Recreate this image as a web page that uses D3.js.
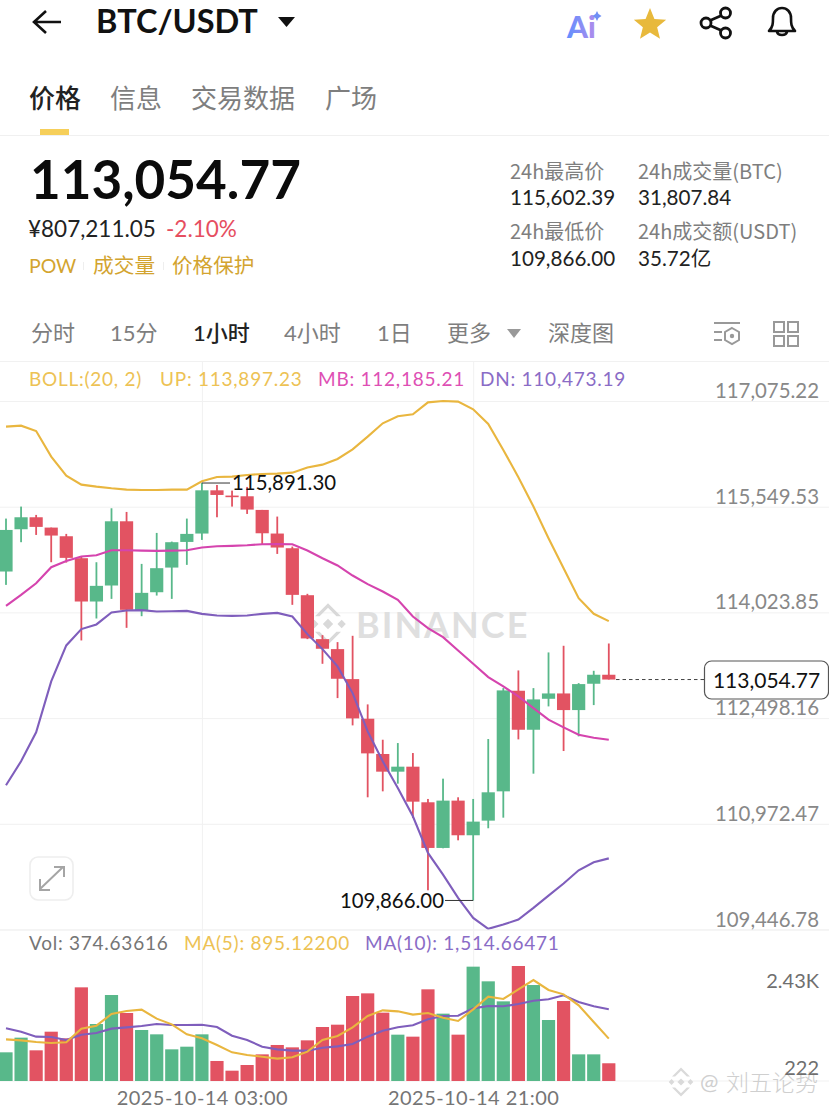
<!DOCTYPE html>
<html>
<head>
<meta charset="utf-8">
<script src="https://cdn.jsdelivr.net/npm/d3@7/dist/d3.min.js"></script>
<style>
  html, body { margin: 0; padding: 0; background: #fff; overflow: hidden; }
  svg { display: block; }
  text { font-family: Lato, "Noto Sans CJK SC", sans-serif; }
  .zh { font-family: "Noto Sans CJK SC", Lato, sans-serif; }
</style>
</head>
<body>
<div id="chart"></div>
<script>
// hourly candles, first one is 2025-10-13 14:00
const openPrices = [114614,115224,115397,115248,115123,114806,114181,114412,115339,114056,114315,114671,115041,115162,115786,115710,115700,115503,115162,114950,114272,113638,113494,113061,112489,111980,111725,111797,111283,110624,111307,110807,111018,111441,112893,112330,112777,112854,112614,112994,113124];
const closePrices = [115214,115397,115258,115133,114811,114181,114407,115339,114061,114306,114662,115037,115157,115786,115719,115695,115508,115166,114960,114277,113648,113499,113066,112494,111989,111725,111797,111292,110624,111307,110807,111004,111427,112898,112330,112768,112854,112614,112989,113124,113054.77];
const highPrices = [115378,115551,115431,115248,115157,114830,114748,115527,115474,114724,115171,115046,115378,115891.30,115863,115782,115835,115503,115407,114974,114292,113696,113595,113686,112696,112186,112138,111994,111331,111624,111355,111331,112196,112931,113186,112931,113446,113542,113003,113181,113575];
const lowPrices = [114421,115037,115142,114748,114743,113619,113936,114219,113801,113969,114267,114219,114710,115070,115397,115551,115445,115008,114868,114133,113638,113282,112787,112393,111355,111441,111552,111057,110013,110619,110734,109866,110908,111061,112191,111696,112667,112023,112234,112686,113054.77];

const bollUp = [116705,116719,116642,116272,115998,115868,115839,115815,115796,115791,115791,115796,115796,115916,115979,115984,116008,116022,116027,116041,116114,116157,116239,116378,116561,116753,116854,116883,117056,117075,117066,116955,116744,116369,115975,115552,115095,114662,114230,114004,113897.23];
const bollMid = [114118,114277,114445,114676,114767,114830,114849,114921,114921,114916,114912,114916,114921,114960,114979,114984,114993,115008,115012,115008,114917,114806,114701,114556,114432,114326,114206,113965,113797,113667,113474,113282,113090,112955,112811,112643,112475,112364,112258,112215,112185.21];
const bollDn = [111528,111875,112293,113028,113547,113783,113850,114023,114052,114056,114037,114041,114046,114003,113979,113974,113979,114003,114017,113965,113710,113494,113244,112859,112306,111874,111489,111081,110552,110239,109903,109614,109456,109518,109590,109759,109936,110110,110302,110417,110473.19];

const volumes = [606,916,648,1042,901,1979,1204,1817,1437,1078,986,669,725,986,423,218,338,563,761,711,859,1141,1190,1796,1852,1444,979,937,1937,1423,979,2416,2106,1683,2430,2028,1289,1690,563,563,374.64];
const volMa5 = [880,859,824,803,817,1106,1169,1416,1479,1507,1317,1197,986,901,761,606,549,514,472,500,620,866,951,1134,1373,1493,1472,1402,1437,1338,1268,1514,1782,1733,1937,2134,1923,1831,1599,1247,895.12];
const volMa10 = [1113,1042,937,930,866,979,1014,1106,1134,1162,1204,1183,1183,1190,1141,958,866,725,669,641,641,704,732,782,937,1063,1134,1176,1303,1373,1380,1535,1585,1578,1627,1697,1726,1810,1669,1578,1514.66];

const priceTicks = [117075.22,115549.53,114023.85,112498.16,110972.47,109446.78];
const volTickLabels = ['2.43K','222'];
const volTicks = [2430,222];
const lastPrice = 113054.77;
const highMark = 115891.30;
const lowMark = 109866.00;

const times = openPrices.map((d, i) => new Date(2025, 9, 13, 14 + i));
const timeTicks = [new Date(2025, 9, 14, 3), new Date(2025, 9, 14, 21)];

const RED = '#E25362', GREEN = '#58B88A', YELLOW = '#E9B63F', PINK = '#D544AE', PURPLE = '#7F5EBC';
const GRID = '#F1F1F1', GREY = '#888888', HEAD_GREY = '#7E7E7E', GOLD = '#D3A42F';
const fmt = d3.format(',.2f');

const svg = d3.select('#chart').append('svg').attr('width', 829).attr('height', 1111);
svg.append('rect').attr('width', 829).attr('height', 1111).attr('fill', '#fff');

function label(x, y, str, size, color, opts = {}) {
  return svg.append('text')
    .attr('x', x).attr('y', y).text(str)
    .attr('class', opts.zh ? 'zh' : null)
    .attr('font-size', size).attr('fill', color)
    .attr('font-weight', opts.weight || 400)
    .attr('letter-spacing', opts.spacing || null)
    .attr('text-anchor', opts.anchor || 'start');
}

// ---------- header ----------
svg.append('path').attr('d', 'M61 22H34M46 11L34 22L46 33').attr('fill', 'none')
  .attr('stroke', '#111').attr('stroke-width', 2.6);
label(96, 33, 'BTC/USDT', 32.5, '#111', { weight: 700 });
svg.append('path').attr('d', 'M278 17H295L286.5 27Z').attr('fill', '#111');

const aiGrad = svg.append('defs').append('linearGradient').attr('id', 'aiGrad');
aiGrad.append('stop').attr('offset', '0').attr('stop-color', '#5F8FFF');
aiGrad.append('stop').attr('offset', '1').attr('stop-color', '#B08CEB');
label(567, 38, 'Ai', 30, 'url(#aiGrad)', { weight: 900 });
svg.append('path').attr('d', 'M597 11L598.5 14L601.5 16L598.5 18L597 21L595.5 18L592.5 16L595.5 14Z').attr('fill', '#6F8FF5');

const starPts = d3.range(10).map(i => {
  const r = i % 2 ? 7.5 : 17, a = -Math.PI / 2 + i * Math.PI / 5;
  return [650 + r * Math.cos(a), 25 + r * Math.sin(a)];
});
svg.append('polygon').attr('points', starPts.join(' ')).attr('fill', '#E8B93C');

const share = svg.append('g').attr('fill', 'none').attr('stroke', '#111').attr('stroke-width', 2.8);
share.append('path').attr('d', 'M710 20.5L721.5 15.5M710 25.5L721.5 30.5');
[[706, 23], [725.5, 13], [725.5, 33]].forEach(c =>
  share.append('circle').attr('cx', c[0]).attr('cy', c[1]).attr('r', 5));

svg.append('path')
  .attr('d', 'M769 31C773 27 773 23 773 18C773 12 777 8 782 8C787 8 791 12 791 18C791 23 791 27 795 31ZM777 32C778 36 786 36 787 32')
  .attr('fill', 'none').attr('stroke', '#111').attr('stroke-width', 2.6).attr('stroke-linejoin', 'round');

label(29, 108, '价格', 26, '#222', { zh: true, weight: 500 });
label(110, 108, '信息', 26, HEAD_GREY, { zh: true });
label(191, 108, '交易数据', 26, HEAD_GREY, { zh: true });
label(325, 108, '广场', 26, HEAD_GREY, { zh: true });
svg.append('rect').attr('x', 40).attr('y', 129).attr('width', 29).attr('height', 6).attr('fill', '#F6CF5A');
svg.append('line').attr('x1', 0).attr('x2', 829).attr('y1', 135.5).attr('y2', 135.5).attr('stroke', '#F0F0F0');

label(30, 199, '113,054.77', 53, '#0B0B0B', { weight: 700 });
label(28, 237, '¥807,211.05', 22.5, '#222');
label(166, 237, '-2.10%', 22.5, '#E64E60');
label(29, 273, 'POW', 19.5, GOLD);
label(93, 273, '成交量', 20.7, GOLD, { zh: true });
label(172, 273, '价格保护', 20.6, GOLD, { zh: true });
svg.append('rect').attr('x', 83).attr('y', 262).attr('width', 1).attr('height', 8).attr('fill', '#EEE');
svg.append('rect').attr('x', 163).attr('y', 262).attr('width', 1).attr('height', 8).attr('fill', '#EEE');

label(510, 179, '24h最高价', 20, HEAD_GREY, { zh: true });
label(510, 205, '115,602.39', 20.6, '#222');
label(638, 179, '24h成交量(BTC)', 20, HEAD_GREY, { zh: true });
label(638, 205, '31,807.84', 20.6, '#222');
label(510, 239, '24h最低价', 20, HEAD_GREY, { zh: true });
label(510, 266, '109,866.00', 20.6, '#222');
label(638, 239, '24h成交额(USDT)', 20, HEAD_GREY, { zh: true });
label(638, 266, '35.72亿', 20.6, '#222');

[['分时', 31, HEAD_GREY], ['15分', 110, HEAD_GREY], ['1小时', 193, '#222'], ['4小时', 284, HEAD_GREY],
 ['1日', 377, HEAD_GREY], ['更多', 447, HEAD_GREY], ['深度图', 548, HEAD_GREY]]
  .forEach(d => label(d[1], 341, d[0], 22, d[2], { weight: d[2] === '#222' ? 500 : 400 }));
svg.append('path').attr('d', 'M507 329H521L514 338Z').attr('fill', '#999');

const settings = svg.append('g').attr('fill', 'none').attr('stroke', '#999').attr('stroke-width', 2);
settings.append('path').attr('d', 'M714 323H740M714 332H722M714 340H722');
settings.append('path').attr('d', 'M732 328L739 332V340L732 344L725 340V332Z');
svg.append('circle').attr('cx', 732).attr('cy', 336).attr('r', 2.2).attr('fill', '#999');
[[774, 322], [788, 322], [774, 336], [788, 336]].forEach(p =>
  svg.append('rect').attr('x', p[0]).attr('y', p[1]).attr('width', 10).attr('height', 10)
    .attr('fill', 'none').attr('stroke', '#999').attr('stroke-width', 2));

// ---------- scales ----------
const x = d3.scaleTime().domain([times[0], times[times.length - 1]]).range([6, 608.8]);
const y = d3.scaleLinear().domain([109446.78, 117075.22]).range([929.5, 401]);
const yVol = d3.scaleLinear().domain([0, 2430]).range([1081, 966]);
const bodyWidth = 13.2;

// ---------- grid and axes ----------
svg.append('line').attr('x1', 0).attr('x2', 829).attr('y1', 361.5).attr('y2', 361.5).attr('stroke', GRID);

const xGrid = svg.append('g').attr('transform', 'translate(0,1081)')
  .call(d3.axisTop(x).tickValues(timeTicks).tickSize(720).tickFormat(''));
xGrid.select('.domain').remove();
xGrid.selectAll('line').attr('stroke', GRID);

const priceAxis = svg.append('g').call(d3.axisRight(y).tickValues(priceTicks).tickSize(829).tickFormat(fmt));
priceAxis.select('.domain').remove();
priceAxis.selectAll('line').attr('stroke', GRID);
priceAxis.selectAll('text')
  .attr('x', 819).attr('dy', -3.5).attr('text-anchor', 'end')
  .attr('font-family', 'Lato').attr('font-size', 20.4).attr('fill', GREY);

svg.append('line').attr('x1', 0).attr('x2', 829).attr('y1', 1081).attr('y2', 1081).attr('stroke', GRID);

// ---------- watermarks ----------
function binanceLogo(cx, cy, s, color) {
  const g = svg.append('g').attr('fill', color).attr('transform', `translate(${cx},${cy}) scale(${s})`);
  [[0, 0, 4], [-10.5, 0, 3.2], [10.5, 0, 3.2]].forEach(d =>
    g.append('path').attr('d', `M${d[0]} ${d[1] - d[2]}L${d[0] + d[2]} ${d[1]}L${d[0]} ${d[1] + d[2]}L${d[0] - d[2]} ${d[1]}Z`));
  g.append('path').attr('d', 'M0 -16L10 -6L6.5 -6L0 -12.5L-6.5 -6L-10 -6Z');
  g.append('path').attr('d', 'M0 16L10 6L6.5 6L0 12.5L-6.5 6L-10 6Z');
}
binanceLogo(328, 624, 1.3, '#D9D9D9');
label(356, 638, 'BINANCE', 36, '#DFDFDF', { weight: 700, spacing: 2 });
binanceLogo(681, 1082, 0.9, '#DADADA');
label(700, 1090, '@', 22, '#CFCFCF');
label(726, 1091, '刘五论势', 23, '#CFCFCF', { zh: true, weight: 300 });

// ---------- candles ----------
const isUp = i => closePrices[i] >= openPrices[i];
const candle = svg.append('g').selectAll('g').data(times).enter().append('g')
  .attr('fill', (d, i) => isUp(i) ? GREEN : RED);
candle.append('rect')
  .attr('x', d => x(d) - 0.9).attr('width', 1.8)
  .attr('y', (d, i) => y(highPrices[i]))
  .attr('height', (d, i) => y(lowPrices[i]) - y(highPrices[i]));
candle.append('rect')
  .attr('x', d => x(d) - bodyWidth / 2).attr('width', bodyWidth)
  .attr('y', (d, i) => y(Math.max(openPrices[i], closePrices[i])))
  .attr('height', (d, i) => Math.max(1.6, Math.abs(y(openPrices[i]) - y(closePrices[i]))));

// ---------- bollinger lines ----------
const priceLine = d3.line().x((d, i) => x(times[i])).y(d => y(d));
[[bollUp, YELLOW], [bollMid, PINK], [bollDn, PURPLE]].forEach(d =>
  svg.append('path').datum(d[0]).attr('d', priceLine).attr('fill', 'none')
    .attr('stroke', d[1]).attr('stroke-width', 2.1));

label(29, 386, 'BOLL:(20, 2)', 19, '#EDC254', { spacing: 0.75 });
label(160, 386, 'UP: 113,897.23', 19, '#EDC254', { spacing: 0.75 });
label(318, 386, 'MB: 112,185.21', 19, '#DE4FB4', { spacing: 0.75 });
label(480, 386, 'DN: 110,473.19', 19, '#8A6CC6', { spacing: 0.75 });

// ---------- high / low / last markers ----------
svg.append('line').attr('x1', x(times[13])).attr('x2', 230).attr('y1', y(highMark)).attr('y2', y(highMark)).attr('stroke', '#333');
label(232, 490, fmt(highMark), 20.4, '#111');
svg.append('line').attr('x1', 445).attr('x2', x(times[31])).attr('y1', y(lowMark)).attr('y2', y(lowMark)).attr('stroke', '#333');
label(444, 908, fmt(lowMark), 20.4, '#111', { anchor: 'end' });

svg.append('line').attr('x1', 616).attr('x2', 704).attr('y1', y(lastPrice)).attr('y2', y(lastPrice))
  .attr('stroke', '#444').attr('stroke-dasharray', '3.5 3');
svg.append('rect').attr('x', 704.5).attr('y', 661).attr('width', 124).attr('height', 38).attr('rx', 7)
  .attr('fill', '#fff').attr('stroke', '#555').attr('stroke-width', 1.2);
label(766.5, 688, fmt(lastPrice), 21, '#111', { anchor: 'middle' });

// expand button
svg.append('rect').attr('x', 30).attr('y', 857).attr('width', 43).attr('height', 43).attr('rx', 8)
  .attr('fill', '#fff').attr('stroke', '#EEE').attr('stroke-width', 1.6);
svg.append('path').attr('d', 'M40 889L63 867M54 867H64V877M40 879V890H50').attr('fill', 'none')
  .attr('stroke', '#A5A5A5').attr('stroke-width', 2);

// ---------- volume ----------
svg.append('line').attr('x1', 0).attr('x2', 829).attr('y1', 930).attr('y2', 930).attr('stroke', GRID);
label(29, 950, 'Vol: 374.63616', 19, '#757575', { spacing: 0.75 });
label(184, 950, 'MA(5): 895.12200', 19, '#EDC254', { spacing: 0.75 });
label(365, 950, 'MA(10): 1,514.66471', 19, '#8A6CC6', { spacing: 0.75 });

svg.append('g').selectAll('rect').data(volumes).enter().append('rect')
  .attr('x', (d, i) => x(times[i]) - bodyWidth / 2).attr('width', bodyWidth)
  .attr('y', d => yVol(d)).attr('height', d => yVol(0) - yVol(d))
  .attr('fill', (d, i) => isUp(i) ? GREEN : RED);

const volLine = d3.line().x((d, i) => x(times[i])).y(d => yVol(d));
[[volMa10, PURPLE], [volMa5, YELLOW]].forEach(d =>
  svg.append('path').datum(d[0]).attr('d', volLine).attr('fill', 'none')
    .attr('stroke', d[1]).attr('stroke-width', 2.1));

const volAxis = svg.append('g').attr('transform', 'translate(819,0)')
  .call(d3.axisLeft(yVol).tickValues(volTicks).tickSize(0).tickFormat((d, i) => volTickLabels[i]));
volAxis.select('.domain').remove();
volAxis.selectAll('text')
  .attr('x', 0).attr('dy', (d, i) => i === 0 ? 21.5 : 4)
  .attr('text-anchor', 'end').attr('font-family', 'Lato').attr('font-size', 20).attr('fill', '#6F6F6F');

const timeAxis = svg.append('g').attr('transform', 'translate(0,1081)')
  .call(d3.axisBottom(x).tickValues(timeTicks).tickSize(0).tickFormat(d3.timeFormat('%Y-%m-%d %H:%M')));
timeAxis.select('.domain').remove();
timeAxis.selectAll('text').attr('y', 11).attr('dy', 12.5)
  .attr('font-family', 'Lato').attr('font-size', 20).attr('letter-spacing', 0.45).attr('fill', '#757575');
</script>
</body>
</html>
